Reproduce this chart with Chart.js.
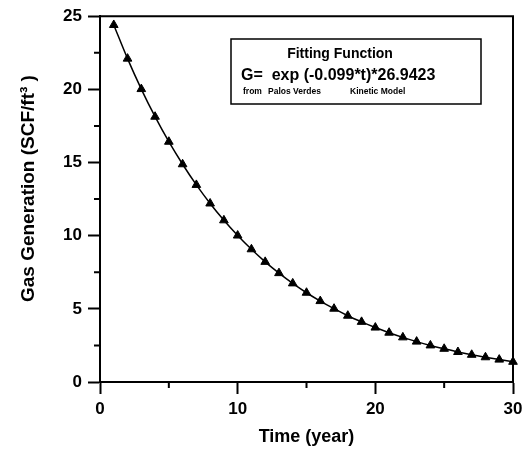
<!DOCTYPE html>
<html lang="en">
<head>
  <meta charset="UTF-8" />
  <title>Gas Generation</title>
  <script src="https://cdn.jsdelivr.net/npm/chart.js"></script>
  <style>
    body {
      margin: 0;
      background: #fff;
    }
    canvas {
      display: block;
    }
  </style>
</head>
<body>
  <canvas id="gasChart" width="528" height="452"></canvas>

  <script>
    // values
    const years = [1, 2, 3, 4, 5, 6, 7, 8, 9, 10, 11, 12, 13, 14, 15,
                   16, 17, 18, 19, 20, 21, 22, 23, 24, 25, 26, 27, 28, 29, 30];
    const gas = [24.40, 22.10, 20.02, 18.13, 16.42, 14.88, 13.47, 12.20, 11.05, 10.01,
                 9.07, 8.21, 7.44, 6.74, 6.10, 5.53, 5.01, 4.53, 4.11, 3.72,
                 3.37, 3.05, 2.76, 2.50, 2.27, 2.05, 1.86, 1.69, 1.53, 1.38];
    const xMinorTicks = [5, 15, 25];
    const yMinorTicks = [2.5, 7.5, 12.5, 17.5, 22.5];
    const boxLines = {
      title: 'Fitting Function',
      formula: 'G=  exp (-0.099*t)*26.9423',
      source: ['from', 'Palos Verdes', 'Kinetic Model']
    };

    const FONT = "'Liberation Sans', Arial, sans-serif";

    // frame, minor ticks and the fitting-function box
    const extras = {
      id: 'extras',
      afterDraw(chart) {
        const ctx = chart.ctx;
        const a = chart.chartArea;
        const xs = chart.scales.x, ys = chart.scales.y;
        ctx.save();
        ctx.strokeStyle = '#000';
        ctx.lineWidth = 2;
        ctx.beginPath();
        ctx.moveTo(a.left, a.top);
        ctx.lineTo(a.right, a.top);
        ctx.lineTo(a.right, a.bottom);
        ctx.stroke();

        ctx.beginPath();
        xMinorTicks.forEach(v => {
          const px = xs.getPixelForValue(v);
          ctx.moveTo(px, a.bottom);
          ctx.lineTo(px, a.bottom + 6);
        });
        yMinorTicks.forEach(v => {
          const py = ys.getPixelForValue(v);
          ctx.moveTo(a.left, py);
          ctx.lineTo(a.left - 6, py);
        });
        ctx.stroke();

        // legend box
        ctx.lineWidth = 1.5;
        ctx.fillStyle = '#fff';
        ctx.fillRect(231, 39, 250, 65);
        ctx.strokeRect(231, 39, 250, 65);
        ctx.fillStyle = '#000';
        ctx.textBaseline = 'middle';
        ctx.textAlign = 'center';
        ctx.font = 'bold 14px ' + FONT;
        ctx.fillText(boxLines.title, 340, 54);
        ctx.textAlign = 'left';
        ctx.font = 'bold 16px ' + FONT;
        ctx.fillText(boxLines.formula, 241, 76);
        ctx.font = 'bold 8.5px ' + FONT;
        ctx.fillText(boxLines.source[0], 243, 92);
        ctx.fillText(boxLines.source[1], 268, 92);
        ctx.fillText(boxLines.source[2], 350, 92);
        ctx.restore();
      }
    };

    new Chart(document.getElementById('gasChart').getContext('2d'), {
      type: 'line',
      data: {
        datasets: [{
          data: years.map((t, i) => ({ x: t, y: gas[i] })),
          borderColor: '#000',
          borderWidth: 1.5,
          backgroundColor: '#000',
          pointStyle: 'triangle',
          pointRadius: 5,
          pointBackgroundColor: '#000',
          pointBorderColor: '#000',
          pointBorderWidth: 1,
          cubicInterpolationMode: 'monotone',
          clip: false
        }]
      },
      options: {
        responsive: false,
        animation: false,
        layout: { padding: { left: 0, right: 15, top: 11, bottom: 0 } },
        plugins: {
          legend: { display: false },
          tooltip: { enabled: false }
        },
        scales: {
          x: {
            type: 'linear',
            min: 0,
            max: 30,
            afterFit(scale) { scale.height = 70; },
            ticks: {
              stepSize: 10,
              padding: 5,
              color: '#000',
              font: { family: FONT, size: 17, weight: 'bold' }
            },
            grid: {
              drawOnChartArea: false,
              drawTicks: true,
              tickLength: 12,
              tickWidth: 2,
              color: '#000'
            },
            border: { display: true, color: '#000', width: 2 },
            title: {
              display: true,
              text: 'Time (year)',
              color: '#000',
              padding: { top: 0, bottom: 4 },
              font: { family: FONT, size: 18, weight: 'bold' }
            }
          },
          y: {
            min: 0,
            max: 25,
            afterFit(scale) { scale.width = 100; },
            ticks: {
              stepSize: 5,
              padding: 6,
              color: '#000',
              font: { family: FONT, size: 17, weight: 'bold' }
            },
            grid: {
              drawOnChartArea: false,
              drawTicks: true,
              tickLength: 12,
              tickWidth: 2,
              color: '#000'
            },
            border: { display: true, color: '#000', width: 2 },
            title: {
              display: true,
              // leading spaces lift the label a little, as in the original
              text: '    Gas Generation (SCF/ft³ )',
              color: '#000',
              padding: { top: 17, bottom: 0 },
              font: { family: FONT, size: 19, weight: 'bold' }
            }
          }
        }
      },
      plugins: [extras]
    });
  </script>
</body>
</html>
